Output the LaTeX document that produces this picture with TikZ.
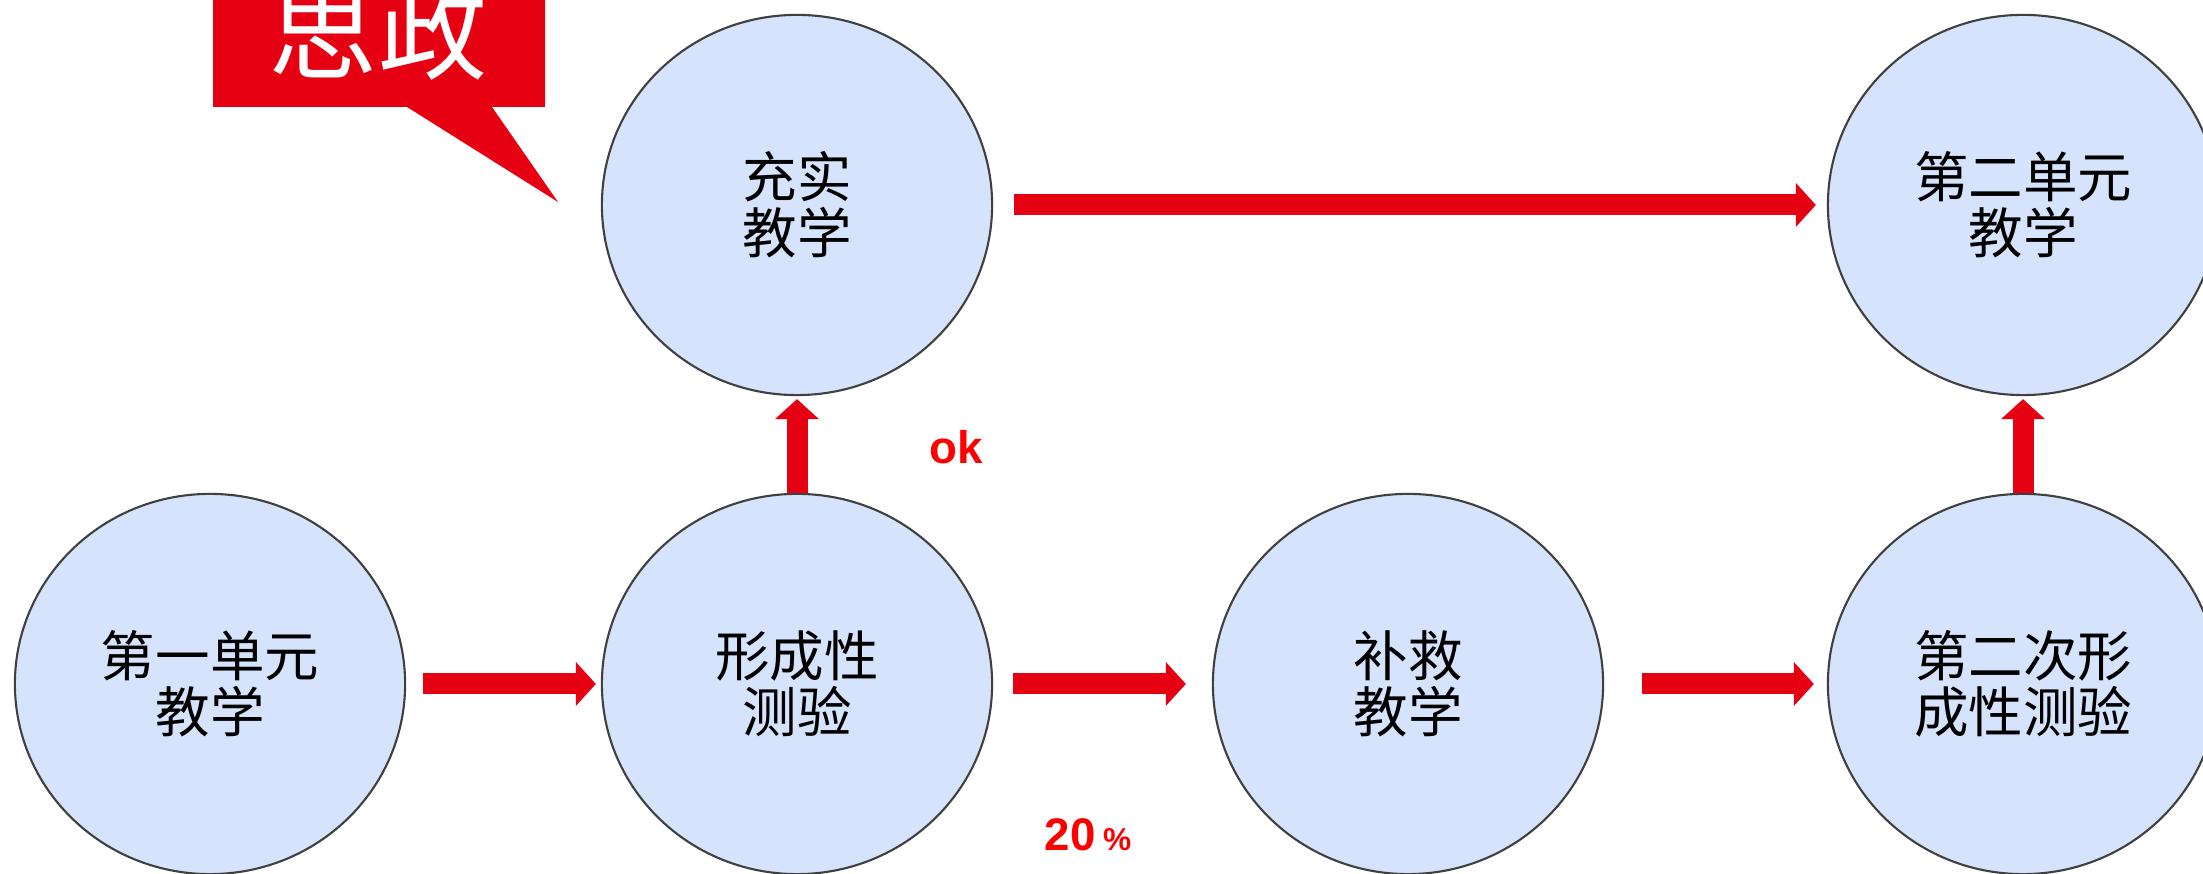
\documentclass[tikz,border=0pt]{standalone}
\usepackage{fontspec}
\setmainfont{Liberation Sans}
\newfontfamily\cjk{Noto Sans CJK SC}
\usetikzlibrary{arrows.meta,shapes.geometric}
\definecolor{hong}{HTML}{E50012}
\definecolor{lan}{HTML}{D5E3FC}
\definecolor{bian}{HTML}{404040}

\begin{document}
\begin{tikzpicture}[line join=round,>={Triangle[width=0.44cm,length=0.2cm,line width=0pt]},x=0.01cm,y=-0.01cm,
  quan/.style={ellipse,draw=bian,line width=0.6pt,fill=lan,minimum width=3.9cm,minimum height=3.8cm,inner sep=0pt,align=center,font=\cjk\fontsize{15.5}{16}\selectfont},
  jian/.style={->,draw=hong,fill=hong,line width=0.21cm},
  biao/.style={text=red,font=\bfseries\fontsize{13}{13}\selectfont}]
\useasboundingbox (0,0) rectangle (2203,874);
\clip (0,0) rectangle (2203,874);
\node[quan] (jx1) at (210,684) {第一单元\\教学};
\node[quan] (cs1) at (797,684) {形成性\\测验};
\node[quan] (bj) at (1408,684) {补救\\教学};
\node[quan] (cs2) at (2023,684) {第二次形\\成性测验};
\node[quan] (cs) at (797,205) {充实\\教学};
\node[quan] (jx2) at (2023,205) {第二单元\\教学};
\fill[hong] (213,-10) -- (545,-10) -- (545,107) -- (492,107) -- (558,202) -- (407,107) -- (213,107) -- cycle;
\node[text=white,font=\cjk\fontsize{31}{31}\selectfont] (sz) at (378,30) {思政};
\draw[jian,shorten <=0.17cm,shorten >=0.05cm] (jx1) -- (cs1);
\draw[jian,shorten <=0.20cm,shorten >=0.26cm] (cs1) -- (bj);
\draw[jian,shorten <=0.38cm,shorten >=0.13cm] (bj) -- (cs2);
\draw[jian,shorten <=0.21cm,shorten >=0.11cm] (cs) -- (jx2);
\draw[jian,shorten >=0.03cm] (cs1) -- (cs);
\draw[jian,shorten >=0.03cm] (cs2) -- (jx2);
\node[biao] (ok) at (956,447) {ok};
\node[biao] (bfb) at (1088,835) {20\,{\fontsize{9}{9}\selectfont\%}};
\end{tikzpicture}
\end{document}
